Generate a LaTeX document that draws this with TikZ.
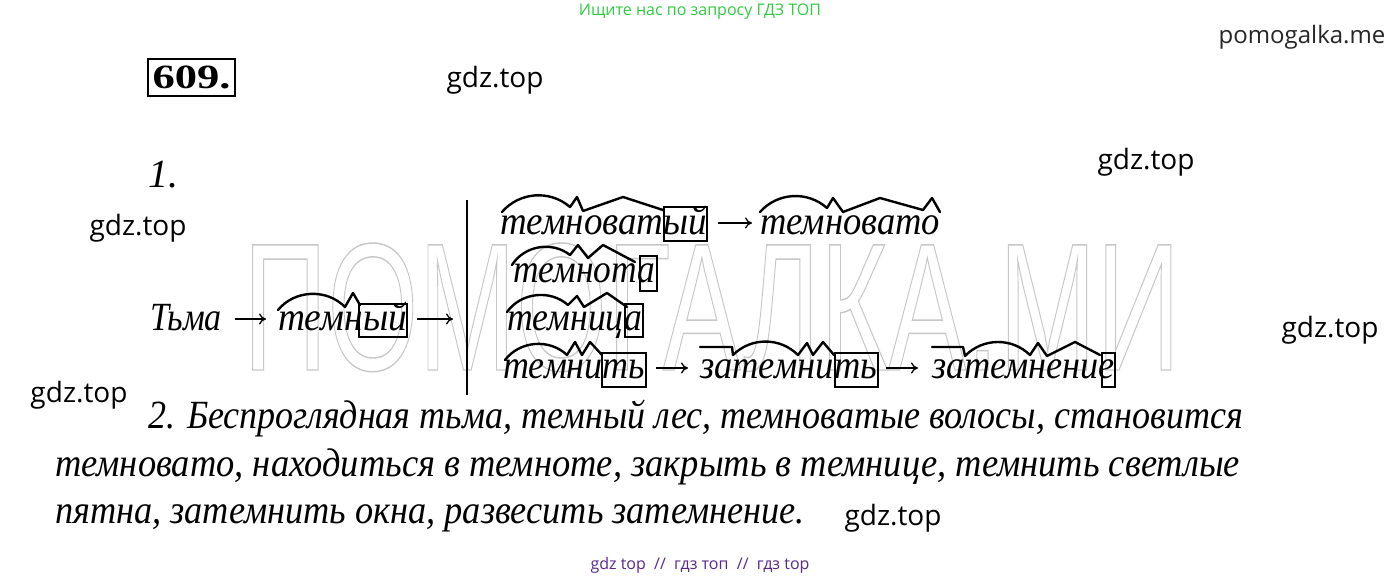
\documentclass[tikz,border=0pt]{standalone}
\usepackage{fontspec}
\setmainfont{Liberation Serif}
\newfontfamily\gdzfont{Open Sans}
\newfontfamily\wmfont{Liberation Sans}
\usetikzlibrary{arrows.meta}
\definecolor{gdzgreen}{RGB}{46,204,64}
\definecolor{gdzpurple}{RGB}{88,40,140}
\newcommand\wordw[2]{\resizebox{#1pt}{\height}{#2}}

\begin{document}
\begin{tikzpicture}[x=1pt, y=-1pt,
  word/.style={anchor=base west, inner sep=0pt, outer sep=0pt, font=\fontsize{40}{48}\selectfont\itshape},
  morph/.style={line width=2.4pt, line join=round, line cap=round},
  ending/.style={line width=2.4pt},
  arr/.style={-{To[length=7pt,width=11pt]}, line width=1.3pt},
  gdz/.style={inner sep=0pt, font=\gdzfont\fontsize{28}{32}\selectfont}]

\fill[white] (0,0) rectangle (1400,580);
\useasboundingbox (0,0) rectangle (1400,580);

%%%%% watermark %%%%%
\node[anchor=base west, inner sep=0pt, text=black!22] (wm) at (243,370)
  {\wmfont\fontsize{177}{180}\selectfont\resizebox{937pt}{127pt}{\special{pdf:literal direct 1 Tr 1.4 w}ПОМОГАЛКА.МИ\special{pdf:literal direct 0 Tr}}};

%%%%% header %%%%%
\node[inner sep=0pt, text=gdzgreen, font=\gdzfont\fontsize{16}{18}\selectfont] (ask) at (700,12) {Ищите нас по запросу ГДЗ ТОП};
\node[inner sep=0pt, text=black!85, font=\gdzfont\fontsize{24}{28}\selectfont] (site) at (1302,37) {pomogalka.me};
\node[draw, line width=2.5pt, minimum width=87pt, minimum height=37pt, inner sep=0pt,
  font=\fontsize{34}{36}\selectfont\bfseries] (num) at (191.5,77.5) {\wordw{78}{609.}};

\node[gdz] (g1) at (495,80) {gdz.top};
\node[gdz] (g2) at (1146,162) {gdz.top};
\node[gdz] (g3) at (138,228) {gdz.top};
\node[gdz] (g4) at (1330,330) {gdz.top};
\node[gdz] (g5) at (79,395) {gdz.top};
\node[gdz] (g6) at (893,518) {gdz.top};

%%%%% part 1 %%%%%
\node[word] (one) at (148,188) {1.};

\node[word] (tma) at (150,330) {\wordw{72}{Тьма}};
\node[word] (temny) at (278,330) {\wordw{129}{темный}};
\coordinate (fork) at (453,319);
\coordinate (bartop) at (467,200);
\coordinate (barbot) at (467,395);
\draw[line width=2pt] (bartop) -- (barbot);

\node[word] (temnovaty) at (500,234) {\wordw{207}{темноватый}};
\node[word] (temnovato) at (760,234) {\wordw{180}{темновато}};
\node[word] (temnota) at (513,282) {\wordw{142}{темнота}};
\node[word] (temnica) at (507,330) {\wordw{135}{темница}};
\node[word] (temnit) at (503,378) {\wordw{142}{темнить}};
\node[word] (zatemnit) at (700,378) {\wordw{177}{затемнить}};
\node[word] (zatemnenie) at (932,378) {\wordw{183}{затемнение}};

% arrows
\draw[arr, shorten <=13pt, shorten >=12pt] ([yshift=11pt]tma.base east) -- ([yshift=11pt]temny.base west);
\draw[arr, shorten <=10pt] ([yshift=11pt]temny.base east) -- (fork);
\draw[arr, shorten <=11pt, shorten >=8pt] ([yshift=11pt]temnovaty.base east) -- ([yshift=11pt]temnovato.base west);
\draw[arr, shorten <=11pt, shorten >=12pt] ([yshift=10pt]temnit.base east) -- ([yshift=10pt]zatemnit.base west);
\draw[arr, shorten <=9pt, shorten >=14pt] ([yshift=10pt]zatemnit.base east) -- ([yshift=10pt]zatemnenie.base west);

% endings
\draw[ending] (359,304) rectangle (407,337);
\draw[ending] (664,207) rectangle (707,241);
\draw[ending] (640,256) rectangle (657,291);
\draw[ending] (625,304) rectangle (643,337);
\draw[ending] (602,353) rectangle (646,387);
\draw[ending] (835,353) rectangle (878,387);
\draw[ending] (1102,353) rectangle (1115,387);

% roots, suffixes, prefixes
\draw[morph] (278,310) to[bend left=48] (345,307) -- (353,293) -- (360,305);
\draw[morph] (502,212) to[bend left=45] (570,207) -- (577,197) -- (583,211) -- (623,197) -- (663,210);
\draw[morph] (760,212) to[bend left=45] (827,208) -- (833,198) -- (843,212) -- (880,198) -- (923,210) -- (932,198) -- (940,212);
\draw[morph] (512,265) to[bend left=48] (570,255) -- (578,245) -- (588,258) -- (603,245) -- (635,262);
\draw[morph] (507,312) to[bend left=48] (568,305) -- (577,296) -- (584,307) -- (607,293) -- (627,307);
\draw[morph] (505,360) to[bend left=48] (567,355) -- (575,342) -- (582,355) -- (590,342) -- (602,355);
\draw[morph] (700,347) -- (732,347) -- (733,355) to[bend left=45] (798,355) -- (807,343) -- (813,355) -- (823,342) -- (834,355);
\draw[morph] (932,347) -- (963,347) -- (965,356) to[bend left=45] (1030,355) -- (1038,343) -- (1047,356) -- (1075,342) -- (1100,355);

%%%%% part 2 %%%%%
\node[word] (p1) at (148,428) {\wordw{1095}{2. Беспроглядная тьма, темный лес, темноватые волосы, становится}};
\node[word] (p2) at (55,476) {\wordw{1185}{темновато, находиться в темноте, закрыть в темнице, темнить светлые}};
\node[word] (p3) at (55,523) {\wordw{750}{пятна, затемнить окна, развесить затемнение.}};

%%%%% footer %%%%%
\node[inner sep=0pt, text=gdzpurple, font=\gdzfont\fontsize{16}{18}\selectfont] (foot) at (700,565) {gdz top\ \ //\ \ гдз топ\ \ //\ \ гдз top};

\end{tikzpicture}
\end{document}
